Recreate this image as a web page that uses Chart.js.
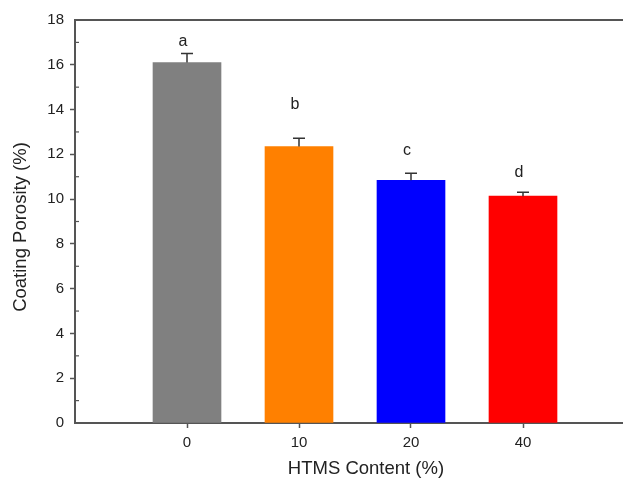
<!DOCTYPE html>
<html>
<head>
<meta charset="utf-8">
<script src="https://cdn.jsdelivr.net/npm/chart.js@4.4.0/dist/chart.umd.min.js"></script>
<style>
  html, body { margin: 0; padding: 0; background: #fff; overflow: hidden; }
  canvas { display: block; }
</style>
</head>
<body>
<canvas id="porosityChart" width="623" height="478"></canvas>
<script>
// HTMS content groups
const categories = ["0", "10", "20", "40"];
const porosity = [16.1, 12.35, 10.84, 10.13];
const errors = [0.4, 0.37, 0.31, 0.18];
const letters = ["a", "b", "c", "d"];
const letterLevels = [17.05, 14.2, 12.15, 11.17];
const barColors = ["#808080", "#ff8000", "#0000ff", "#ff0000"];
const yTicks = [0, 2, 4, 6, 8, 10, 12, 14, 16, 18];
const yMinorTicks = [1, 3, 5, 7, 9, 11, 13, 15, 17];
const xTitle = "HTMS Content (%)";
const yTitle = "Coating Porosity (%)";

const axisColor = "#555";
const textColor = "#222";
const fontFamily = "'Liberation Sans', Arial, sans-serif";

// error bars (upper half only) + significance letters
const errorBarPlugin = {
  id: "errorBars",
  afterDatasetsDraw(chart) {
    const ctx = chart.ctx;
    const xs = chart.scales.x;
    const ys = chart.scales.y;
    ctx.save();
    ctx.strokeStyle = "#333";
    ctx.lineWidth = 1.5;
    porosity.forEach((v, i) => {
      const x = xs.getPixelForValue(i + 1);
      const yTop = ys.getPixelForValue(v);
      const yErr = ys.getPixelForValue(v + errors[i]);
      ctx.beginPath();
      ctx.moveTo(x, yTop);
      ctx.lineTo(x, yErr);
      ctx.moveTo(x - 6, yErr);
      ctx.lineTo(x + 6, yErr);
      ctx.stroke();
    });
    ctx.fillStyle = textColor;
    ctx.font = "16px " + fontFamily;
    ctx.textAlign = "center";
    ctx.textBaseline = "middle";
    letters.forEach((t, i) => {
      ctx.fillText(t, xs.getPixelForValue(i + 1) - 4, ys.getPixelForValue(letterLevels[i]));
    });
    ctx.restore();
  }
};

// frame top line, inward minor ticks, axis titles
const framePlugin = {
  id: "frame",
  afterDraw(chart) {
    const ctx = chart.ctx;
    const area = chart.chartArea;
    const ys = chart.scales.y;
    ctx.save();
    ctx.strokeStyle = axisColor;
    ctx.lineWidth = 2;
    ctx.beginPath();
    ctx.moveTo(area.left - 1, area.top);
    ctx.lineTo(chart.width, area.top);
    ctx.stroke();
    ctx.lineWidth = 1.2;
    yMinorTicks.forEach(v => {
      const y = ys.getPixelForValue(v);
      ctx.beginPath();
      ctx.moveTo(area.left, y);
      ctx.lineTo(area.left + 4, y);
      ctx.stroke();
    });

    ctx.fillStyle = textColor;
    ctx.font = "18.5px " + fontFamily;
    ctx.textAlign = "center";
    ctx.textBaseline = "middle";
    ctx.fillText(xTitle, 366, 469);
    ctx.translate(21, 227);
    ctx.rotate(-Math.PI / 2);
    ctx.fillText(yTitle, 0, 0);
    ctx.restore();
  }
};

new Chart(document.getElementById("porosityChart"), {
  type: "bar",
  data: {
    datasets: [{
      data: porosity.map((v, i) => ({ x: i + 1, y: v })),
      backgroundColor: barColors,
      borderWidth: 0,
      barThickness: 68
    }]
  },
  options: {
    responsive: false,
    animation: false,
    layout: { padding: { top: 20, right: 0, left: 0, bottom: 0 } },
    plugins: {
      legend: { display: false },
      tooltip: { enabled: false }
    },
    scales: {
      x: {
        type: "linear",
        offset: false,
        min: 0,
        max: 548 / 112,
        afterBuildTicks: scale => { scale.ticks = categories.map((c, i) => ({ value: i + 1 })); },
        afterFit: scale => { scale.height = 55; },
        ticks: {
          callback: (v) => categories[v - 1],
          color: textColor,
          font: { family: fontFamily, size: 15 },
          padding: 6,
          maxRotation: 0
        },
        grid: { offset: false, drawOnChartArea: false, tickLength: 5, tickColor: axisColor, tickWidth: 1.5 },
        border: { color: axisColor, width: 2 }
      },
      y: {
        min: 0,
        max: 18,
        afterBuildTicks: scale => { scale.ticks = yTicks.map(v => ({ value: v })); },
        afterFit: scale => { scale.width = 75; },
        ticks: {
          color: textColor,
          font: { family: fontFamily, size: 15 },
          padding: 6
        },
        grid: {
          drawOnChartArea: false,
          tickLength: 5,
          tickWidth: 1.5,
          tickColor: c => (c.tick && (c.tick.value === 0 || c.tick.value === 18)) ? "rgba(0,0,0,0)" : axisColor
        },
        border: { color: axisColor, width: 2 }
      }
    }
  },
  plugins: [errorBarPlugin, framePlugin]
});
</script>
</body>
</html>
